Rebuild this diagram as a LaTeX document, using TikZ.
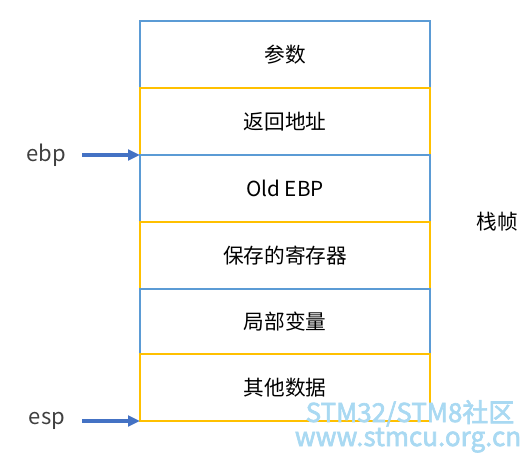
\documentclass[tikz,border=0pt]{standalone}
\usepackage{fontspec}
\setmainfont{Noto Sans CJK SC}
\newfontfamily\wmfont{Noto Sans CJK SC}[FakeBold=2.5]
\usetikzlibrary{arrows.meta}
\definecolor{bblue}{HTML}{5B9BD5}
\definecolor{byellow}{HTML}{FFC000}
\definecolor{arrblue}{HTML}{4472C4}
\definecolor{wm}{HTML}{A9D9F2}
\definecolor{txt}{HTML}{404040}
\begin{document}
\begin{tikzpicture}[x=0.75pt,y=-0.75pt,
  cell/.style={font=\fontsize{15.5pt}{18pt}\selectfont},
  ptr/.style={draw=arrblue,line width=2.6pt,-{Triangle[length=9pt,width=8pt]}},
  lbl/.style={text=txt,font=\fontsize{16.5pt}{18pt}\selectfont},
  wmtext/.style={text=wm,font=\wmfont\fontsize{19.5pt}{22pt}\selectfont,inner sep=0pt,anchor=base}]
\useasboundingbox (0,0) rectangle (530,459);
\draw[bblue,line width=0.9pt] (140,21) rectangle (430,88);
\node[cell] (p1) at (285,54.5) {参数};
\draw[byellow,line width=0.9pt] (140,88) rectangle (430,155);
\node[cell] (p2) at (285,121.5) {返回地址};
\draw[bblue,line width=0.9pt] (140,155) rectangle (430,222);
\node[cell] (p3) at (285,188.5) {Old EBP};
\draw[byellow,line width=0.9pt] (140,222) rectangle (430,289);
\node[cell] (p4) at (285,255.5) {保存的寄存器};
\draw[bblue,line width=0.9pt] (140,289) rectangle (430,354);
\node[cell] (p5) at (285,321.5) {局部变量};
\draw[byellow,line width=0.9pt] (140,354) rectangle (430,421);
\node[cell] (p6) at (285,387.5) {其他数据};
\coordinate (ebptip) at (140,155);
\coordinate (esptip) at (140,421);
\node[lbl] (ebp) at (46,155) {ebp};
\node[lbl] (esp) at (47,421) {esp};
\coordinate (ebpstart) at (82,155);
\coordinate (espstart) at (82,421);
\draw[ptr] (ebpstart) -- (ebptip);
\draw[ptr] (espstart) -- (esptip);
\node[cell] (frame) at (497,222) {栈帧};
\node[wmtext,text depth=0pt] (wm1) at (410,422) {STM32/STM8社区};
\node[wmtext,text height=9pt] (wm2) at (408,446) {www.stmcu.org.cn};
\end{tikzpicture}
\end{document}
